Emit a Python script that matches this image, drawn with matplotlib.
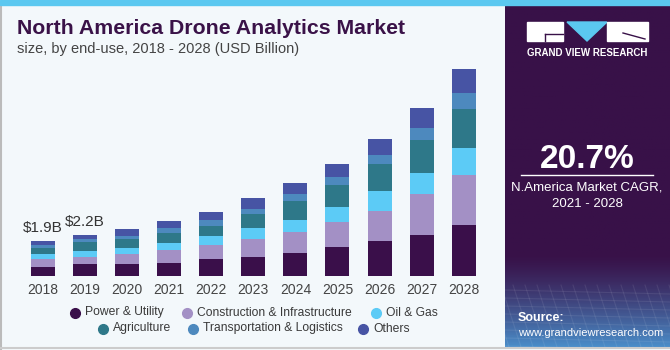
import matplotlib
matplotlib.use("Agg")
import matplotlib.pyplot as plt
import numpy as np
from matplotlib.patches import Rectangle, Polygon
from matplotlib.lines import Line2D

plt.rcParams['font.family'] = ['Liberation Sans', 'DejaVu Sans']

years = ["2018", "2019", "2020", "2021", "2022", "2023", "2024", "2025", "2026", "2027", "2028"]
power = [0.50, 0.63, 0.63, 0.70, 0.90, 1.04, 1.24, 1.59, 1.89, 2.22, 2.76]
construction = [0.42, 0.39, 0.56, 0.72, 0.76, 0.96, 1.14, 1.33, 1.64, 2.23, 2.68]
oil_gas = [0.27, 0.31, 0.34, 0.38, 0.50, 0.58, 0.65, 0.83, 1.06, 1.14, 1.46]
agriculture = [0.34, 0.49, 0.47, 0.52, 0.54, 0.76, 1.04, 1.17, 1.44, 1.77, 2.14]
transport = [0.16, 0.16, 0.16, 0.27, 0.32, 0.29, 0.38, 0.45, 0.54, 0.65, 0.85]
others = [0.20, 0.23, 0.38, 0.38, 0.45, 0.61, 0.59, 0.69, 0.85, 1.06, 1.28]
series_names = ["Power & Utility", "Construction & Infrastructure", "Oil & Gas",
                "Agriculture", "Transportation & Logistics", "Others"]
colors = ["#3A0F4A", "#A390C5", "#5CCBF6", "#2E7889", "#4D89BE", "#4754A4"]
annot_labels = {0: "$1.9B", 1: "$2.2B"}

W, H = 670, 350
fig = plt.figure(figsize=(6.7, 3.5), dpi=100)
fig.patch.set_facecolor("#F3F8FB")

def px(x, y):
    return x / W, 1 - y / H

# chart axes: pixel x 10..500, pixel y (from top) 60..276
ax = fig.add_axes([10 / W, 74 / H, 490 / W, 216 / H])
ax.set_facecolor("none")
x = np.arange(len(years))
series = [power, construction, oil_gas, agriculture, transport, others]
bottom = np.zeros(len(years))
for vals, col in zip(series, colors):
    ax.bar(x, vals, width=0.57, bottom=bottom, color=col, edgecolor="none")
    bottom += np.array(vals)
ax.set_xlim(-0.784, 10.863)
ax.set_ylim(0, 11.68)
for s in ax.spines.values():
    s.set_visible(False)
ax.set_yticks([])
ax.set_xticks(x)
ax.set_xticklabels(years, fontsize=10, color="#444444")
ax.tick_params(axis="x", length=0, pad=5)
for i, lab in annot_labels.items():
    ax.text(x[i], bottom[i] + 0.35, lab, ha="center", va="bottom", fontsize=11, color="#333333")

# top stripe
fig.add_artist(Rectangle((0, 1 - 5 / H), 1, 5 / H, transform=fig.transFigure, color="#5BC8F0", zorder=5))
# left & bottom border
fig.add_artist(Line2D([1 / W, 1 / W], [0, 1 - 5 / H], transform=fig.transFigure, color="#BBBBBB", lw=1.5))
fig.add_artist(Line2D([0, 1], [2 / H, 2 / H], transform=fig.transFigure, color="#CCCCCC", lw=1.5))

# title
fig.text(*px(17, 28), "North America Drone Analytics Market", fontsize=15.3, fontweight="bold",
         color="#3A1248", ha="left", va="center")
fig.text(*px(17, 49), "size, by end-use, 2018 - 2028 (USD Billion)", fontsize=10.5,
         color="#444444", ha="left", va="center")

# legend (manual, centered rows)
row1 = [(75, 0), (187, 1), (376, 2)]
row2 = [(103, 3), (193, 4), (363, 5)]
for row, yy in ((row1, 312.5), (row2, 328.5)):
    for cx, k in row:
        fig.add_artist(Line2D([cx / W], [1 - yy / H], marker="o", markersize=7, color=colors[k],
                              linestyle="none", transform=fig.transFigure))
        fig.text((cx + 10) / W, 1 - yy / H, series_names[k], fontsize=8.7, color="#3A3A3A",
                 ha="left", va="center")

# right panel
pan = fig.add_axes([505 / W, 3 / H, 165 / W, 342 / H])
pan.set_xlim(0, 165)
pan.set_ylim(342, 0)
pan.axis("off")
n = 200
grad = np.zeros((n, 1, 3))
top_c = np.array([0x38, 0x11, 0x48]) / 255
bot_c = np.array([0x4A, 0x8C, 0xC8]) / 255
for i in range(n):
    yv = i / (n - 1) * 342
    t = np.clip((yv - 250) / 92, 0, 1) ** 1.3
    grad[i, 0] = top_c * (1 - t) + bot_c * t
pan.imshow(grad, extent=[0, 165, 342, 0], aspect="auto", zorder=0)
# grid lines on bottom gradient
for yy in np.arange(285, 342, 8):
    pan.plot([0, 165], [yy, yy + 4], color="white", alpha=0.08, lw=0.8)
for xx in np.arange(-40, 200, 12):
    pan.plot([xx, xx + 20], [280, 342], color="white", alpha=0.08, lw=0.8)

# logo (panel coords: x offset 505, y offset 3)
pan.add_patch(Rectangle((22, 17), 36, 19, color="white", zorder=3))
pan.add_patch(Polygon([[62, 17], [102, 17], [82, 36]], closed=True, color="#5BC8F0", zorder=3))
pan.add_patch(Rectangle((102, 17), 41, 19, color="white", zorder=3))
pan.plot([40, 58], [29, 29], color="#381148", lw=1, zorder=4)
pan.plot([40, 40], [29, 36], color="#381148", lw=1, zorder=4)
pan.plot([118, 140], [28, 34], color="#381148", lw=1, zorder=4)
pan.text(82, 48, "GRAND VIEW RESEARCH", color="white", fontsize=7, fontweight="bold",
         ha="center", va="center", zorder=4)
pan.text(82, 154, "20.7%", color="white", fontsize=24, fontweight="bold",
         ha="center", va="center", zorder=4)
pan.plot([16, 148], [170, 170], color="white", lw=1, zorder=4)
pan.text(82, 182, "N.America Market CAGR,", color="white", fontsize=9.5,
         ha="center", va="center", zorder=4)
pan.text(82, 199, "2021 - 2028", color="white", fontsize=9.5,
         ha="center", va="center", zorder=4)
pan.text(13, 313, "Source:", color="white", fontsize=9, fontweight="bold",
         ha="left", va="center", zorder=4)
pan.text(13, 328, "www.grandviewresearch.com", color="white", fontsize=8,
         ha="left", va="center", zorder=4)

fig.savefig("out.png", dpi=100, facecolor=fig.get_facecolor())
